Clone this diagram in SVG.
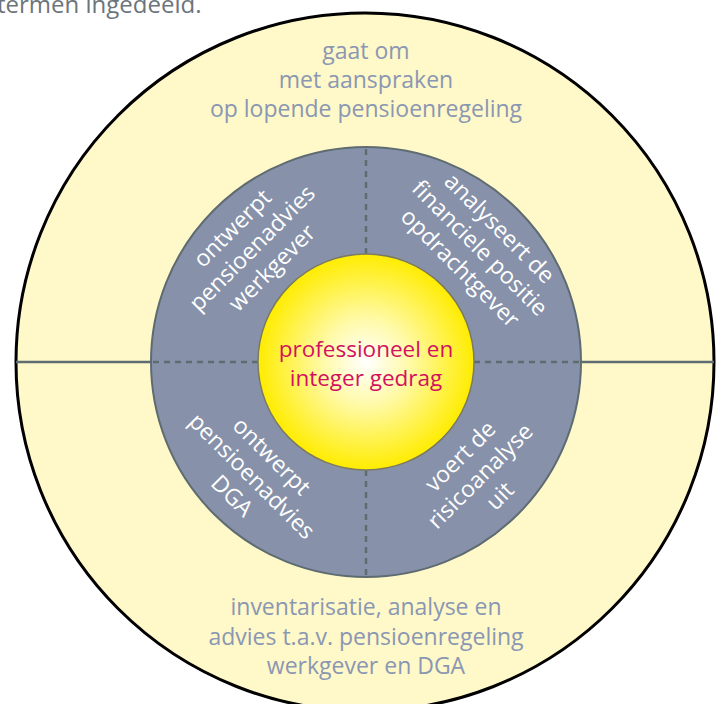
<svg xmlns="http://www.w3.org/2000/svg" width="722" height="704" viewBox="0 0 722 704">
<defs>
<radialGradient id="core" cx="0.5" cy="0.5" r="0.5">
<stop offset="0" stop-color="#ffffff"/>
<stop offset="0.4" stop-color="#fffaa8"/>
<stop offset="1" stop-color="#ffec00"/>
</radialGradient>
<style>
.outer{font-family:"Open Sans","Noto Sans",sans-serif;font-size:23px;fill:#8a97b2;text-anchor:middle}
.ring{font-family:"Open Sans","Noto Sans",sans-serif;font-size:23px;fill:#ffffff;text-anchor:middle}
.core{font-family:"Open Sans","Noto Sans",sans-serif;font-size:22.5px;fill:#d2125f;text-anchor:middle}
.solid{stroke:#5e6b70;stroke-width:2.5;fill:none}
.dash{stroke:#5e6b70;stroke-width:2.5;stroke-dasharray:6 5;fill:none}
</style>
</defs>
<rect x="0" y="0" width="722" height="704" fill="#ffffff"/>
<text x="-3" y="13" font-family="'Open Sans','Noto Sans',sans-serif" font-size="24" fill="#6b757b">termen ingedeeld.</text>
<g id="outer">
<circle cx="365" cy="362" r="349" fill="#fff8c9" stroke="#000000" stroke-width="3"/>
<text class="outer" x="366" y="59">gaat om</text>
<text class="outer" x="366" y="88">met aanspraken</text>
<text class="outer" x="366" y="117">op lopende pensioenregeling</text>
<text class="outer" x="366" y="615">inventarisatie, analyse en</text>
<text class="outer" x="366" y="645">advies t.a.v. pensioenregeling</text>
<text class="outer" x="366" y="674">werkgever en DGA</text>
</g>
<g id="ring">
<circle cx="366" cy="362" r="215" fill="#8792aa" stroke="#5e6b70" stroke-width="2"/>
</g>
<g id="connectors">
<line class="solid" x1="16" y1="362" x2="151" y2="362"/>
<line class="solid" x1="581" y1="362" x2="714" y2="362"/>
<line class="dash" x1="153" y1="362" x2="258" y2="362"/>
<line class="dash" x1="474" y1="362" x2="579" y2="362"/>
<line class="dash" x1="366" y1="149" x2="366" y2="254"/>
<line class="dash" x1="366" y1="470" x2="366" y2="575"/>
</g>
<g id="core">
<circle cx="366" cy="362" r="108" fill="url(#core)" stroke="#7a7a60" stroke-width="1.5"/>
<text class="core" x="366" y="357">professioneel en</text>
<text class="core" x="366" y="386">integer gedrag</text>
</g>
<g id="q-tl" transform="translate(252,248) rotate(-45)">
<text class="ring" x="0" y="-20">ontwerpt</text>
<text class="ring" x="0" y="8">pensioenadvies</text>
<text class="ring" x="0" y="36">werkgever</text>
</g>
<g id="q-tr" transform="translate(480,248) rotate(45)">
<text class="ring" x="0" y="-20">analyseert de</text>
<text class="ring" x="0" y="8">financiele positie</text>
<text class="ring" x="0" y="36">opdrachtgever</text>
</g>
<g id="q-bl" transform="translate(252,476) rotate(45)">
<text class="ring" x="0" y="-20">ontwerpt</text>
<text class="ring" x="0" y="8">pensioenadvies</text>
<text class="ring" x="0" y="36">DGA</text>
</g>
<g id="q-br" transform="translate(480,476) rotate(-45)">
<text class="ring" x="0" y="-20">voert de</text>
<text class="ring" x="0" y="8">risicoanalyse</text>
<text class="ring" x="0" y="36">uit</text>
</g>
</svg>
